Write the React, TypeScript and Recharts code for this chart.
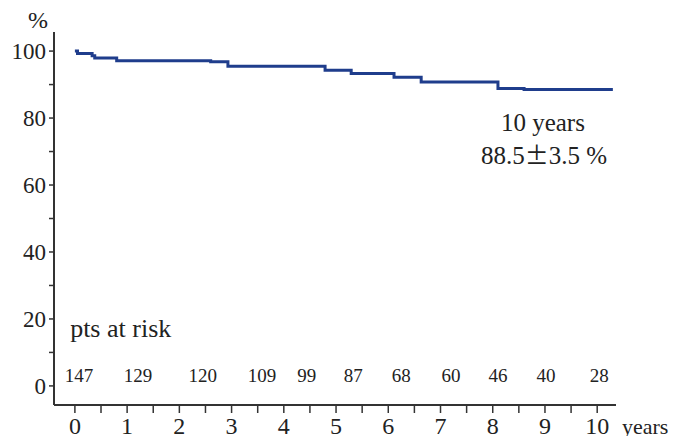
import React from 'react';
import { LineChart, Line, XAxis, YAxis, ReferenceDot, Label } from 'recharts';

// Kaplan-Meier estimate (years, % surviving)
const years = [0, 0.05, 0.33, 0.38, 0.8, 2.6, 2.93, 4.79, 5.29, 6.11, 6.63, 8.1, 8.6, 10.3];
const survival = [100, 99.3, 98.6, 97.9, 97.1, 96.8, 95.5, 94.3, 93.3, 92.2, 90.8, 88.8, 88.5, 88.5];

// patients at risk, one per year 0..10
const atRisk = [147, 129, 120, 109, 99, 87, 68, 60, 46, 40, 28];
// where the at-risk numbers sit along the x axis (they are not centred on the ticks)
const atRiskLabelAt = [0.08, 1.21, 2.45, 3.58, 4.44, 5.33, 6.25, 7.2, 8.1, 9.02, 10.04];

const xTicks = [0, 0.5, 1, 1.5, 2, 2.5, 3, 3.5, 4, 4.5, 5, 5.5, 6, 6.5, 7, 7.5, 8, 8.5, 9, 9.5, 10];
const yTicks = [0, 10, 20, 30, 40, 50, 60, 70, 80, 90, 100];

const data = years.map((t, i) => ({ t, s: survival[i] }));

const FONT = '"Liberation Serif", "DejaVu Serif", serif';
const INK = '#222';
const AXIS = '#333';

// "88.5±3.5 %" with the wide plus-minus sign of the original
const estimateLabel = (props: any) => {
  const vb = props.viewBox || {};
  const cx = vb.x + vb.width / 2;
  const cy = vb.y + vb.height / 2;
  return (
    <text x={cx} y={cy} dy="0.35em" textAnchor="middle" fill={INK} fontFamily={FONT} fontSize={25}>
      <tspan>88.5</tspan>
      <tspan fontFamily='"Noto Sans CJK JP", "DejaVu Sans", sans-serif' fontSize={24}>±</tspan>
      <tspan>3.5 %</tspan>
    </text>
  );
};

const App: React.FC = () => {
  return (
    <div style={{ margin: -8, width: 680, height: 444, background: '#fff' }}>
      <LineChart width={680} height={444} data={data} margin={{ top: 32, right: 64, left: 0, bottom: 0 }}>
        <XAxis
          dataKey="t"
          type="number"
          domain={[-0.4, 10.36]}
          allowDataOverflow
          ticks={xTicks}
          interval={0}
          height={39}
          tickSize={8}
          tickMargin={4}
          axisLine={{ stroke: AXIS, strokeWidth: 2 }}
          tickLine={{ stroke: AXIS, strokeWidth: 1.5 }}
          tick={{ fill: INK, fontFamily: FONT, fontSize: 24 }}
          tickFormatter={(v: number) => (Number.isInteger(v) ? String(v) : '')}
        >
          <Label value="years" position="right" offset={6} dy={2} fill={INK} fontFamily={FONT} fontSize={22} />
        </XAxis>
        <YAxis
          type="number"
          domain={[-5.7, 105.7]}
          allowDataOverflow
          ticks={yTicks}
          interval={0}
          width={54}
          tickSize={5}
          tickMargin={3}
          axisLine={{ stroke: AXIS, strokeWidth: 2 }}
          tickLine={{ stroke: AXIS, strokeWidth: 1.5 }}
          tick={{ fill: INK, fontFamily: FONT, fontSize: 23 }}
          tickFormatter={(v: number) => (v % 20 === 0 ? String(v) : '')}
        >
          <Label value="%" position="top" dx={11} offset={4} fill={INK} fontFamily={FONT} fontSize={24} />
        </YAxis>
        <Line
          type="stepAfter"
          dataKey="s"
          stroke="#1f3d8c"
          strokeWidth={3}
          dot={false}
          isAnimationActive={false}
        />
        <ReferenceDot
          x={8.96}
          y={78.8}
          r={1}
          fill="none"
          stroke="none"
          label={{ value: '10 years', position: 'center', fill: INK, fontFamily: FONT, fontSize: 25 }}
        />
        <ReferenceDot x={8.98} y={69} r={1} fill="none" stroke="none" label={estimateLabel} />
        <ReferenceDot
          x={-0.11}
          y={17.3}
          r={1}
          fill="none"
          stroke="none"
          label={{ value: 'pts at risk', position: 'right', offset: 0, fill: INK, fontFamily: FONT, fontSize: 26 }}
        />
        {atRisk.map((n, i) => (
          <ReferenceDot
            key={`risk-${i}`}
            x={atRiskLabelAt[i]}
            y={3.3}
            r={1}
            fill="none"
            stroke="none"
            label={{ value: String(n), position: 'center', fill: INK, fontFamily: FONT, fontSize: 19 }}
          />
        ))}
      </LineChart>
    </div>
  );
};

export default App;
